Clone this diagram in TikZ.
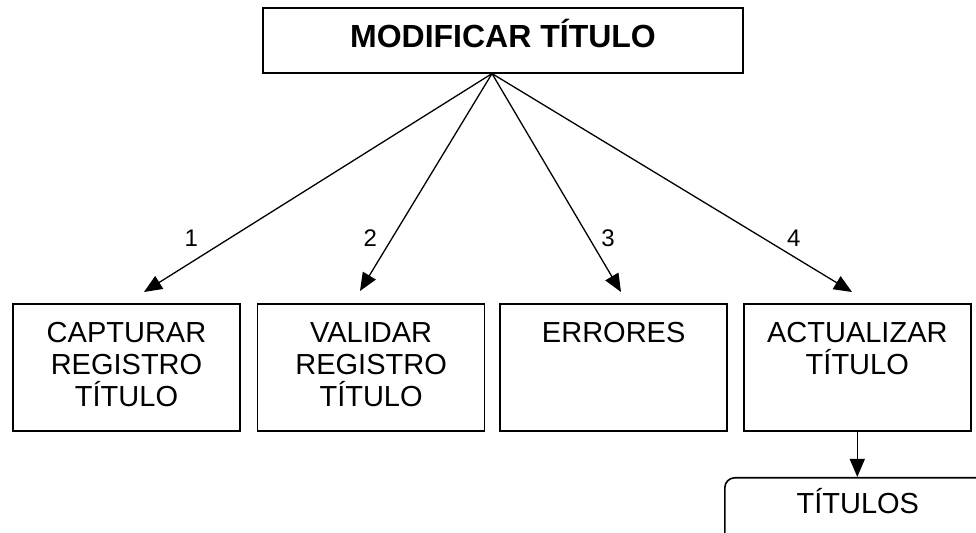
\documentclass[tikz,border=0pt]{standalone}
\usepackage{fontspec}
\setmainfont{Liberation Sans}
\usetikzlibrary{arrows.meta,positioning}

\begin{document}
\begin{tikzpicture}[x=0.5pt,y=-0.5pt,
  caja/.style={draw, line width=0.8pt, text width=113.5pt, align=center,
    inner xsep=0pt, inner ysep=0pt, text height=19.5pt, text depth=44pt,
    font=\fontsize{14.5}{16}\selectfont},
  flecha/.style={-{Triangle[length=9pt,width=7.5pt]}, line width=0.65pt},
  num/.style={font=\fontsize{12}{13}\selectfont}]
  \useasboundingbox (0,0) rectangle (976,533);
  \clip (0,0) rectangle (976,533);
  \node[draw, line width=0.8pt, minimum width=240pt, inner sep=0pt,
    text height=20pt, text depth=12.5pt,
    font=\fontsize{16}{19}\selectfont\bfseries, anchor=north] (modificar) at (503,7) {MODIFICAR TÍTULO};
  \node[caja, anchor=north] (capturar) at (126.5,303) {CAPTURAR\\REGISTRO\\TÍTULO};
  \node[caja, right=8pt of capturar] (validar) {VALIDAR\\REGISTRO\\TÍTULO};
  \node[caja, right=7pt of validar] (errores) {ERRORES};
  \node[caja, right=7.5pt of errores] (actualizar) {ACTUALIZAR\\TÍTULO};
  \node[draw, line width=0.8pt, rounded corners=5pt, anchor=north west,
    text width=133pt, align=center, inner xsep=0pt, inner ysep=0pt,
    text height=18pt, text depth=30pt,
    font=\fontsize{14.5}{16}\selectfont] (titulos) at (724,477) {TÍTULOS};
  % puntas de las flechas
  \coordinate (o) at ([xshift=-5.5pt]modificar.south);
  \coordinate (f1) at (144,292);
  \coordinate (f2) at (360,291);
  \coordinate (f3) at (621,292);
  \coordinate (f4) at (852,292);
  \draw[flecha] (o) -- node[num, pos=.755, xshift=-19pt] (n1) {1} (f1);
  \draw[flecha] (o) -- node[num, pos=.755, xshift=-11pt] (n2) {2} (f2);
  \draw[flecha] (o) -- node[num, pos=.755, xshift=9.3pt] (n3) {3} (f3);
  \draw[flecha] (o) -- node[num, pos=.755, xshift=15pt] (n4) {4} (f4);
  \draw[flecha] (actualizar.south) -- (actualizar.south |- titulos.north);
\end{tikzpicture}
\end{document}
